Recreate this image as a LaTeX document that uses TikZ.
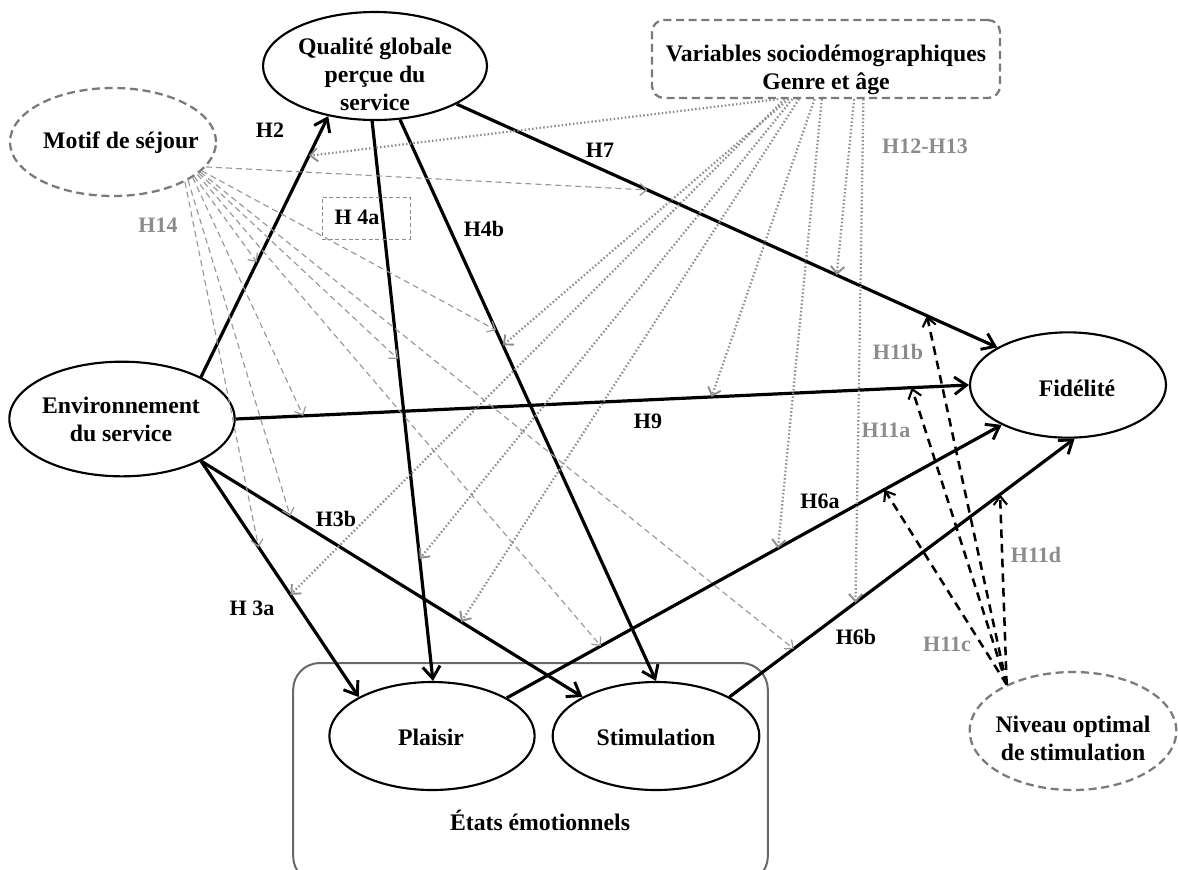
\documentclass[tikz,border=0pt]{standalone}
\usepackage{fontspec}
\setmainfont{Liberation Serif}
\usetikzlibrary{arrows.meta,shapes.geometric}
\definecolor{lgray}{HTML}{8C8C8C}
\definecolor{egray}{HTML}{7A7A7A}
\begin{document}
\begin{tikzpicture}[x=0.75pt,y=-0.75pt,
 txt/.style={font=\fontsize{17.8}{21}\selectfont\bfseries, align=center, inner sep=0pt},
 ell/.style={ellipse, draw, line width=1.6pt, inner sep=0pt},
 dell/.style={ellipse, draw=egray, dash pattern=on 6pt off 3.5pt, line width=1.7pt, inner sep=0pt},
 main/.style={line width=2.4pt, -{Straight Barb[length=9pt,width=13pt,line width=2.2pt]}},
 modl/.style={line width=1.9pt, black, dash pattern=on 6.5pt off 4.5pt, -{Straight Barb[length=6.5pt,width=10pt,line width=1.6pt]}},
 dotl/.style={line width=1.7pt, lgray, dash pattern=on 1.1pt off 1.7pt, -{Straight Barb[length=5.5pt,width=10pt,line width=1.4pt]}},
 dshl/.style={line width=0.85pt, lgray!90, dash pattern=on 4.5pt off 3pt, -{Straight Barb[length=5pt,width=9pt,line width=0.9pt]}},
 lab/.style={font=\fontsize{16.5}{18}\selectfont\bfseries, inner sep=0pt},
 glab/.style={lab, text=lgray}]
\useasboundingbox (0,0) rectangle (1178,869);
% container
\begin{scope}
\clip (0,0) rectangle (1178,869);
\node[draw=egray!85!black, line width=1.5pt, rounded corners=20pt, minimum width=356pt, minimum height=165pt] (emo) at (530.5,773) {};
\end{scope}
% nodes
\node[ell, minimum width=168pt, minimum height=81pt] (qual) at (375,66) {};
\node[txt] (qualt) at (375,74) {Qualité globale\\perçue du\\service};
\node[dell, minimum width=154.5pt, minimum height=81pt] (motif) at (113,142) {};
\node[txt] (motift) at (121,143) {Motif de séjour};
\node[draw=egray, dash pattern=on 6pt off 3.5pt, line width=1.7pt, rounded corners=9pt, minimum width=261pt, minimum height=58.5pt] (var) at (826,59) {};
\node[txt] (vart) at (826,70) {Variables sociodémographiques\\Genre et âge};
\node[ell, minimum width=169pt, minimum height=86pt] (env) at (122,419) {};
\node[txt] (envt) at (121,419) {Environnement\\du service};
\node[ell, minimum width=147pt, minimum height=79pt] (fid) at (1068,385) {};
\node[txt] (fidt) at (1077,388) {Fidélité};
\node[ell, minimum width=154pt, minimum height=81pt] (pla) at (432,736) {};
\node[txt] (plat) at (431,737) {Plaisir};
\node[ell, minimum width=155pt, minimum height=81pt] (sti) at (656,736) {};
\node[txt] (stit) at (656,737) {Stimulation};
\node[dell, minimum width=155pt, minimum height=88.5pt] (niv) at (1073,731) {};
\node[txt] (nivt) at (1073,738) {Niveau optimal\\de stimulation};
\node[txt] (emot) at (540,820) {États émotionnels};
% main paths
\draw[main] (env.28) -- coordinate[pos=0.44] (h2m) coordinate[pos=0.848] (h2v) (qual.227);
\draw[main] (env.east) -- coordinate[pos=0.092] (h9m) coordinate[pos=0.649] (h9v) coordinate[pos=0.922] (h11a) (fid.west);
\draw[main] (env.-28) -- coordinate[pos=0.365] (h3am) coordinate[pos=0.567] (h3av) (pla.152);
\draw[main] (env.-28) -- coordinate[pos=0.234] (h3bm) coordinate[pos=0.682] (h3bv) (sti.152);
\draw[main] (qual.267) -- coordinate[pos=0.425] (h4am) coordinate[pos=0.782] (h4av) (pla.89);
\draw[main] (qual.295) -- coordinate[pos=0.375] (h4bm) coordinate[pos=0.402] (h4bv) (sti.90);
\draw[main] (qual.335) -- coordinate[pos=0.353] (h7m) coordinate[pos=0.703] (h7v) coordinate[pos=0.87] (h11b) (fid.152);
\draw[main] (pla.27) -- coordinate[pos=0.19] (h6am) coordinate[pos=0.548] (h6av) coordinate[pos=0.763] (h11c) (fid.211);
\draw[main] (sti.28) -- coordinate[pos=0.186] (h6bm) coordinate[pos=0.365] (h6bv) coordinate[pos=0.784] (h11d) (fid.277);
% motif de sejour moderations
\draw[dshl] (motif.-15) -- (h7m);
\draw[dshl] (motif.-18) -- (h4bm);
\draw[dshl] (motif.-20) -- (h4am);
\draw[dshl] (motif.-19) -- (h6bm);
\draw[dshl] (motif.-21) -- (h6am);
\draw[dshl] (motif.-23) -- (h2m);
\draw[dshl] (motif.-24) -- (h9m);
\draw[dshl] (motif.-27) -- (h3bm);
\draw[dshl] (motif.-29) -- (h3am);
% sociodemographic moderations
\draw[dotl] (var.220) -- (h2v);
\draw[dotl] (var.224) -- (h3av);
\draw[dotl] (var.230) -- (h4av);
\draw[dotl] (var.227) -- (h4bv);
\draw[dotl] (var.236) -- (h3bv);
\draw[dotl] (var.254) -- (h9v);
\draw[dotl] (var.264) -- (h6av);
\draw[dotl] (var.305) -- (h7v);
\draw[dotl] (var.313) -- (h6bv);
% optimal stimulation level moderations
\draw[modl] (niv.145) -- (h11b);
\draw[modl] (niv.145) -- (h11a);
\draw[modl] (niv.145) -- (h11c);
\draw[modl] (niv.145) -- (h11d);
% labels
\node[draw=lgray, dash pattern=on 3pt off 2pt, line width=0.6pt, minimum width=66pt, minimum height=31.5pt] (h4abox) at (366,218) {};
\node[lab] (lh4a) at (357,217) {H 4a};
\node[lab] (lh2) at (270,130) {H2};
\node[glab] (lh14) at (158,225) {H14};
\node[lab] (lh4b) at (484,229) {H4b};
\node[lab] (lh7) at (600,150) {H7};
\node[glab] (lh1213) at (925,146) {H12-H13};
\node[glab] (lh11b) at (898,352) {H11b};
\node[glab] (lh11a) at (886,430) {H11a};
\node[lab] (lh9) at (648,421) {H9};
\node[lab] (lh6a) at (820,501) {H6a};
\node[lab] (lh3b) at (336,519) {H3b};
\node[lab] (lh3a) at (252,608) {H 3a};
\node[lab] (lh6b) at (856,637) {H6b};
\node[glab] (lh11c) at (947,644) {H11c};
\node[glab] (lh11d) at (1036,555) {H11d};
\end{tikzpicture}
\end{document}
